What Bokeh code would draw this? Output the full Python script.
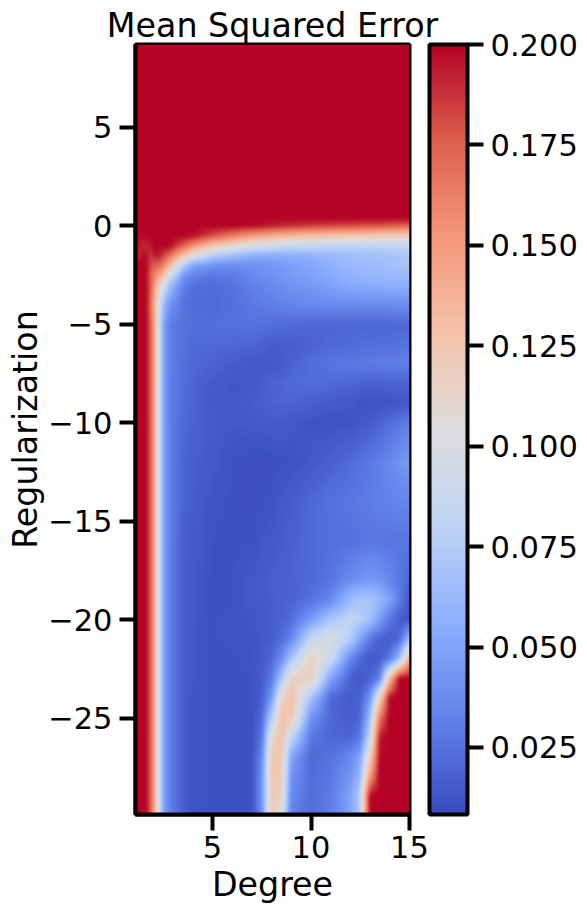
import numpy as np
from bokeh.embed import file_html
from bokeh.models import ColorBar, FixedTicker, LinearColorMapper, NumeralTickFormatter
from bokeh.plotting import figure
from bokeh.resources import INLINE

degree_cols = [1.1,1.6,1.85,2.05,2.2,2.5,2.8,3.5,4,5,6,7,7.5,8,8.5,9,10,11,12,12.5,13,13.5,14,14.5,15]
reg_rows = [9.2,0.4,0,-0.5,-1,-1.5,-2,-2.5,-3,-4,-5,-6,-7,-8,-9,-10,-12,-14,-16,-18,-19,-20,-21,-22,-23,-24,-25,-26,-27,-28,-29,-29.9]
# mean squared error x 1000, one row per regularization, one column per degree
mse_milli = [
[200]*25,
[200]*25,
[200,200,200,200,200,200,200,200,200,200,200,198,196,193,191,189,186,183,181,180,179,178,176,174,172],
[200,198,200,200,200,200,200,200,198,180,165,150,145,140,137,135,130,128,125,124,123,122,121,120,120],
[195,190,195,200,200,200,200,175,155,125,110,98,95,93,88,85,83,81,80,80,80,80,81,83,83],
[190,200,185,195,195,185,170,130,104,76,65,57,55,54,55,57,59,62,65,67,67,68,68,70,70],
[200,200,180,175,175,160,135,76,50,41,38,41,42,43,45,47,51,57,62,63,64,65,67,68,70],
[200,200,175,160,150,130,98,45,34,28,30,36,39,41,43,45,49,54,59,60,62,62,63,63,63],
[200,200,175,150,125,98,67,32,25,23,26,32,34,36,39,42,45,49,54,54,55,55,57,57,57],
[200,200,170,135,108,63,41,26,22,21,24,28,30,31,33,34,36,37,38,38,38,38,38,38,38],
[200,200,175,140,105,50,32,25,24,24,25,25,25,24,23,22,20,20,20,20,20,20,20,21,21],
[200,200,175,140,105,50,32,25,22,21,21,20,18,16,16,16,19,21,22,23,23,24,24,25,25],
[200,200,175,140,105,50,32,24,21,19,16,14,14,14,16,19,23,26,28,29,30,30,31,31,32],
[200,200,175,140,105,50,32,23,20,15,13,14,16,19,20,22,23,22,20,19,18,18,19,19,20],
[200,200,175,140,105,50,32,23,19,14,14,16,17,19,19,20,17,15,14,12,12,12,12,13,13],
[200,200,175,140,105,50,32,21,19,15,14,14,15,15,15,14,12,11,12,14,15,19,23,27,32],
[200,200,175,140,105,50,32,19,17,14,11,10,10,10,11,11,14,18,22,25,28,32,36,41,45],
[200,200,175,140,105,50,32,19,16,12,11,10,11,12,14,16,21,25,27,29,30,32,33,34,34],
[200,200,175,140,105,50,32,17,15,11,11,11,13,14,16,18,22,24,25,26,27,27,27,27,27],
[200,200,175,140,105,50,32,17,14,11,11,14,15,17,18,19,21,26,38,42,45,43,36,28,20],
[200,200,175,140,105,50,32,17,14,11,11,14,15,16,18,19,25,36,63,70,70,63,50,30,15],
[200,200,175,140,105,50,32,17,14,11,12,13,14,16,19,23,45,70,82,78,68,47,28,16,12],
[200,200,175,140,105,50,32,17,13,11,12,12,14,16,23,34,85,100,76,50,28,18,15,21,63],
[200,200,175,140,105,50,32,17,13,11,11,12,15,21,38,70,118,90,36,21,14,15,28,63,140],
[200,200,175,140,105,50,32,17,13,11,11,11,16,28,70,115,120,50,18,14,18,32,130,200,200],
[200,200,175,140,105,50,32,17,12,11,11,11,17,45,115,130,70,21,15,18,41,115,200,200,200],
[200,200,175,140,105,50,32,17,12,11,11,11,21,76,130,125,41,21,16,21,63,165,200,200,200],
[200,200,175,140,105,50,32,17,12,11,11,11,28,110,130,83,28,20,20,28,83,195,200,200,200],
[200,200,175,140,105,50,32,17,12,11,11,11,36,125,125,50,21,26,36,50,115,200,200,200,200],
[200,200,175,140,105,50,32,17,12,11,11,11,41,125,120,41,23,28,42,60,150,200,200,200,200],
[200,200,175,140,105,50,32,17,12,11,11,11,41,125,115,36,23,30,50,75,200,200,200,200,200],
[200,200,175,140,105,50,32,17,12,11,11,11,41,125,105,32,23,30,50,70,200,200,200,200,200],
]
cbar_ticks = [0.025,0.05,0.075,0.1,0.125,0.15,0.175,0.2]
x_ticks = [5,10,15]
y_ticks = [-25,-20,-15,-10,-5,0,5]
cmap_stops = [0,0.125,0.25,0.375,0.5,0.625,0.75,0.875,1]
cmap_r = [58,98,141,192,221,244,244,222,180]
cmap_g = [76,130,176,212,221,195,152,96,4]
cmap_b = [192,234,254,245,221,171,122,77,38]

FONT = "DejaVu Sans"
t = np.linspace(0,1,256)
palette = ["#%02x%02x%02x" % (round(r),round(g),round(b)) for r,g,b in zip(
    np.interp(t,cmap_stops,cmap_r),np.interp(t,cmap_stops,cmap_g),np.interp(t,cmap_stops,cmap_b))]
mapper = LinearColorMapper(palette=palette, low=0.0083, high=0.2)

# resample the table to the frame's pixels, softening the cell edges
x0,x1,y0,y1 = 1.09,15.0,-29.9,9.2
table = np.array(mse_milli,float)/1000
W,H = 274,770
xg = np.linspace(x0,x1,W)
yg = np.linspace(y0,y1,H)
rows = table[::-1]
rr = np.array(reg_rows[::-1])
bycol = np.array([np.interp(yg,rr,rows[:,j]) for j in range(rows.shape[1])]).T
img = np.array([np.interp(xg,degree_cols,bycol[i]) for i in range(H)])
kernel = np.array([1,2,3,4,3,2,1],float); kernel/=kernel.sum()
pad = len(kernel)//2
def soften(a,axis):
    return np.apply_along_axis(lambda v: np.convolve(np.pad(v,pad,mode="edge"),kernel,mode="valid"),axis,a)
img = soften(soften(img,0),1)

p = figure(output_backend="svg",toolbar_location=None,
           x_range=(x0,x1),y_range=(y0,y1),frame_width=W,frame_height=H,
           min_border_left=0,min_border_right=0,min_border_top=0,min_border_bottom=0,
           margin=(3,0,0,3),title="Mean Squared Error")
p.image(image=[img],x=x0,y=y0,dw=x1-x0,dh=y1-y0,color_mapper=mapper)
p.grid.visible=False
p.title.text_font=FONT; p.title.text_font_size="33.3px"; p.title.text_font_style="normal"
p.title.align="center"; p.title.standoff=0; p.title.text_color="black"
p.outline_line_color="black"; p.outline_line_width=4; p.outline_line_alpha=1
for ax in (p.xaxis[0],p.yaxis[0]):
    ax.axis_line_color="black"; ax.axis_line_width=4
    ax.major_tick_line_color="black"; ax.major_tick_line_width=4
    ax.major_tick_out=16; ax.major_tick_in=0
    ax.minor_tick_line_color=None
    ax.major_label_text_font=FONT; ax.major_label_text_font_size="30.5px"; ax.major_label_text_color="black"
    ax.axis_label_text_font=FONT; ax.axis_label_text_font_size="33.3px"
    ax.axis_label_text_font_style="normal"; ax.axis_label_text_color="black"
    ax.major_label_standoff=7; ax.axis_label_standoff=0
p.xaxis[0].ticker=FixedTicker(ticks=x_ticks); p.xaxis[0].axis_label="Degree"
p.xaxis[0].major_label_standoff=5; p.xaxis[0].axis_label_standoff=4
p.yaxis[0].ticker=FixedTicker(ticks=y_ticks); p.yaxis[0].axis_label="Regularization"
p.yaxis[0].major_label_overrides={v:str(v).replace("-","\u2212") for v in y_ticks}

cb = ColorBar(color_mapper=mapper,ticker=FixedTicker(ticks=cbar_ticks),
              formatter=NumeralTickFormatter(format="0.000"),
              width=38,height=H,margin=0,padding=0,
              bar_line_color="black",bar_line_width=4,
              major_tick_line_color="black",major_tick_line_width=4,
              major_tick_in=0,major_tick_out=16,minor_tick_line_color=None,
              major_label_text_font=FONT,major_label_text_font_size="30.5px",
              major_label_text_color="black",label_standoff=7,
              background_fill_color=None,border_line_color=None,location=(20,0))
p.add_layout(cb,"right")

open("out.html","w").write(file_html(p,INLINE))
